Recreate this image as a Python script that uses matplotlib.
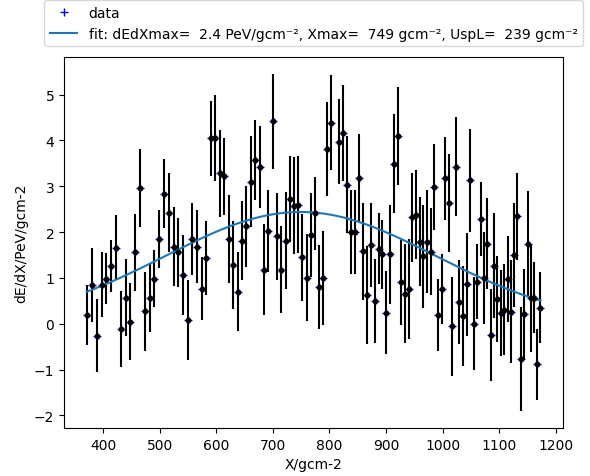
import matplotlib
matplotlib.use('Agg')
import matplotlib.pyplot as plt
import numpy as np

# slant depth (g/cm^2), energy deposit (PeV/gcm^-2) and its error
X = [371.2, 380.0, 388.8, 397.6, 405.9, 414.1, 422.9, 431.8, 440.0, 448.2,
     457.1, 465.3, 474.1, 482.4, 490.6, 498.8, 507.6, 515.9, 524.7, 533.0,
     541.2, 549.4, 557.7, 565.9, 574.1, 581.8, 590.6, 597.6, 606.5, 614.1,
     622.4, 630.0, 638.2, 645.3, 652.9, 661.2, 668.8, 677.1, 684.7, 692.3,
     700.0, 707.6, 715.3, 722.9, 730.0, 737.0, 744.7, 752.3, 760.0, 767.0,
     774.1, 781.8, 789.4, 795.9, 803.5, 817.0, 824.7, 831.2, 838.8, 845.3,
     852.3, 859.4, 865.9, 872.9, 880.0, 887.1, 893.5, 900.6, 907.1, 913.5,
     920.6, 926.4, 933.5, 940.0, 946.4, 953.5, 960.0, 965.9, 972.9, 979.4,
     985.3, 992.3, 998.2, 1004.7, 1010.6, 1017.0, 1023.5, 1029.4, 1035.9, 1042.3,
     1048.2, 1054.7, 1060.6, 1067.0, 1072.9, 1078.2, 1084.7, 1090.6, 1096.4, 1102.3,
     1108.8, 1114.7, 1120.6, 1126.4, 1132.3, 1138.2, 1143.5, 1150.0, 1155.3, 1161.2,
     1167.0, 1172.9]
dEdX = [0.196, 0.857, -0.255, 0.857, 0.988, 1.257, 1.657, -0.109, 0.574, 0.050,
        1.562, 2.965, 0.276, 0.567, 0.988, 1.853, 2.834, 2.427, 1.686, 1.562,
        1.061, 0.087, 1.853, 1.686, 0.770, 1.446, 4.048, 4.048, 3.285, 3.219,
        1.853, 1.286, 0.705, 1.817, 2.129, 3.096, 3.583, 3.416, 1.184, 2.035,
        4.419, 1.911, 1.184, 1.817, 2.725, 2.580, 2.594, 1.453, 1.010, 1.940,
        2.413, 0.806, 1.010, 3.816, 4.390, 3.975, 4.164, 3.038, 1.998, 1.998,
        3.183, 1.584, 0.632, 1.722, 0.501, 1.642, 1.519, 0.247, 1.519, 3.496,
        4.099, 0.908, 0.661, 0.763, 2.325, 2.384, 1.795, 1.475, 1.795, 1.577,
        2.987, 0.188, 0.763, 3.176, 2.638, -0.051, 3.423, 0.472, 0.167, 0.864,
        3.132, 0.007, 0.923, 2.289, 0.995, 1.751, -0.248, 1.264, 0.545, 0.239,
        0.312, 0.973, 0.268, 1.504, 2.347, -0.771, 0.210, 1.737, 0.559, 0.574,
        -0.887, 0.356]
err = [0.654, 0.807, 0.800, 0.705, 0.556, 0.563, 0.709, 0.832, 0.843, 0.839,
       0.836, 0.847, 0.858, 0.738, 0.621, 0.632, 0.752, 0.865, 0.868, 0.756,
       0.879, 0.872, 0.781, 0.789, 0.687, 0.807, 0.814, 0.938, 0.945, 0.843,
       0.963, 0.963, 0.854, 0.854, 0.879, 0.992, 0.872, 0.894, 0.999, 0.894,
       1.036, 0.945, 0.948, 1.061, 0.941, 1.050, 1.057, 0.945, 0.941, 0.908,
       0.792, 0.916, 1.025, 1.025, 1.032, 0.927, 1.057, 1.057, 0.912, 0.912,
       0.959, 1.061, 1.076, 0.923, 0.923, 0.767, 0.752, 0.898, 1.076, 1.079,
       1.068, 0.927, 1.090, 1.090, 0.970, 0.963, 0.974, 1.119, 1.119, 0.956,
       0.945, 0.781, 0.770, 0.908, 1.072, 1.079, 1.079, 0.923, 1.090, 1.119,
       1.119, 1.010, 0.810, 0.799, 0.999, 0.988, 1.010, 1.145, 0.945, 0.941,
       0.992, 0.938, 1.116, 1.130, 0.945, 1.134, 0.981, 1.156, 1.163, 0.781,
       0.781, 0.781]

# fit parameters (universal shower profile)
dEdXmax = 2.44
Xmax = 749.0
UspL = 239.0
UspR = 0.0


def usp(x, emax, xmax, L, R):
    t = (np.asarray(x) - xmax) / L
    if R == 0:
        return emax * np.exp(-0.5 * t**2)
    return emax * (1 + R * t) ** (1 / R**2) * np.exp(-t / R)


fig = plt.figure(figsize=(5.9, 4.77), dpi=100)
ax = fig.add_axes([0.1085, 0.1006, 0.846, 0.778])

ax.plot(X, dEdX, 'b+', label='data')
ax.errorbar(X, dEdX, yerr=err, fmt='ko', ms=3.2, ecolor='k', elinewidth=1.5)

xf = np.linspace(X[0], X[-1], 300)
ax.plot(xf, usp(xf, dEdXmax, Xmax, UspL, UspR),
        label='fit: dEdXmax=  %.1f PeV/gcm\u207b\u00b2, Xmax=  %d gcm\u207b\u00b2, UspL=  %d gcm\u207b\u00b2'
        % (dEdXmax, Xmax, UspL))

ax.set_xlabel('X/gcm-2')
ax.set_ylabel('dE/dX/PeV/gcm-2')
ax.legend(loc='lower center', bbox_to_anchor=(0.5, 1.01))

plt.savefig('out.png', dpi=100)
